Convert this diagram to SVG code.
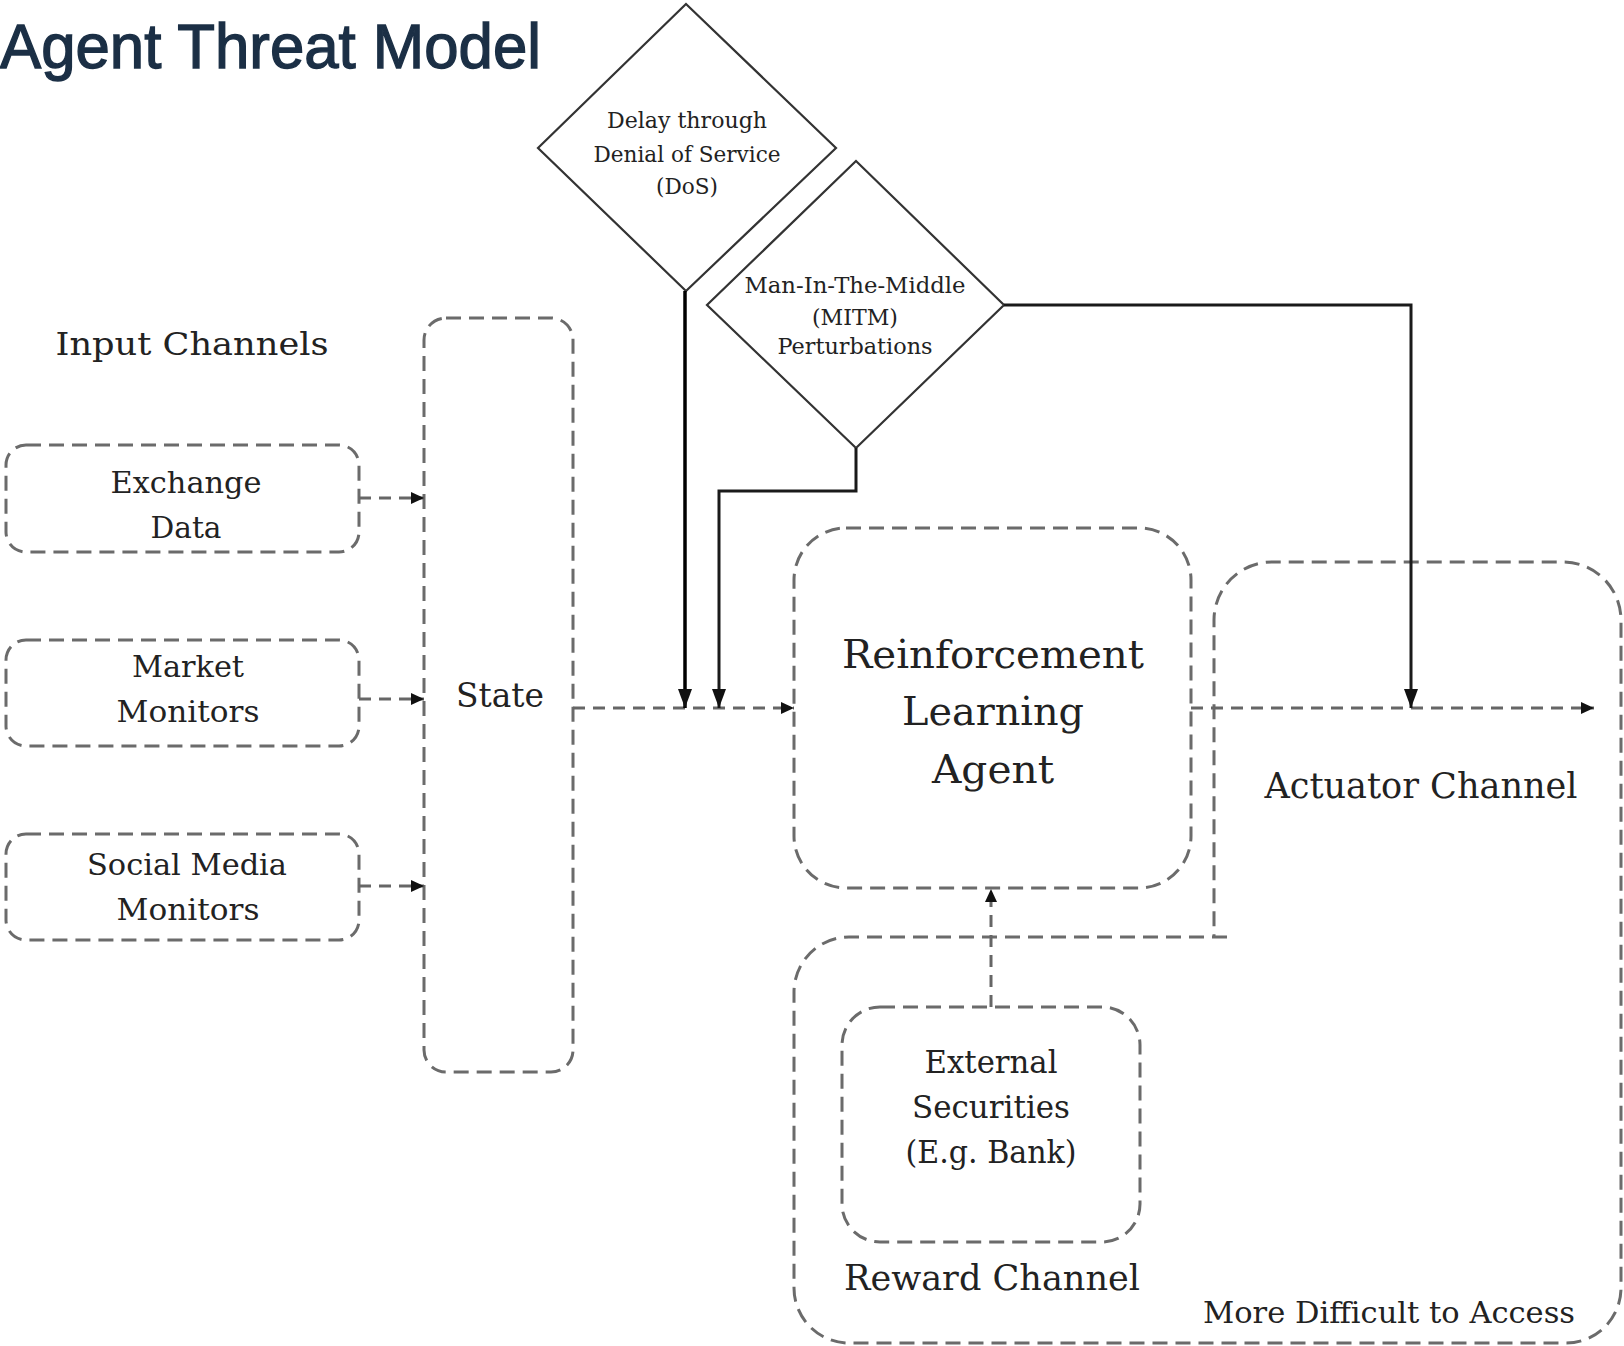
<svg xmlns="http://www.w3.org/2000/svg" width="1624" height="1346" viewBox="0 0 1624 1346">
<style>
.box{fill:none;stroke:#6b6b6b;stroke-width:3;stroke-dasharray:15 8;}
.dash{fill:none;stroke:#666;stroke-width:3;stroke-dasharray:12 8;}
.solid{fill:none;stroke:#1a1a1a;stroke-width:3;}
.dia{fill:#fff;stroke:#333;stroke-width:2.2;}
.t{font-family:"DejaVu Serif","Liberation Serif",serif;fill:#222;text-anchor:middle;}
.title{font-family:"Liberation Sans Narrow","Liberation Sans",sans-serif;fill:#1b2f45;stroke:#1b2f45;stroke-width:1.4;}
</style>
<defs>
<marker id="ah" markerUnits="userSpaceOnUse" markerWidth="14" markerHeight="12" refX="13" refY="6" orient="auto"><path d="M0,0 L13,6 L0,12 z" fill="#111"/></marker>
<marker id="ahb" markerUnits="userSpaceOnUse" markerWidth="20" markerHeight="14" refX="19" refY="7" orient="auto"><path d="M0,0 L19,7 L0,14 z" fill="#111"/></marker>
</defs>
<rect width="1624" height="1346" fill="#fff"/>
<text class="title" x="0" y="68" font-size="63" textLength="541" lengthAdjust="spacingAndGlyphs">Agent Threat Model</text>

<g id="input-channels-label"><text class="t" x="192" y="355" font-size="32" textLength="273" lengthAdjust="spacingAndGlyphs">Input Channels</text></g>

<g id="exchange-data">
<rect class="box" x="6" y="445" width="353" height="107" rx="20"/>
<text class="t" x="186" y="493" font-size="30" textLength="151" lengthAdjust="spacingAndGlyphs">Exchange</text>
<text class="t" x="186" y="538" font-size="30" textLength="71" lengthAdjust="spacingAndGlyphs">Data</text>
</g>
<g id="market-monitors">
<rect class="box" x="6" y="640" width="353" height="106" rx="20"/>
<text class="t" x="188" y="677" font-size="30" textLength="112" lengthAdjust="spacingAndGlyphs">Market</text>
<text class="t" x="188" y="722" font-size="30" textLength="143" lengthAdjust="spacingAndGlyphs">Monitors</text>
</g>
<g id="social-media-monitors">
<rect class="box" x="6" y="834" width="353" height="106" rx="20"/>
<text class="t" x="187" y="875" font-size="30" textLength="200" lengthAdjust="spacingAndGlyphs">Social Media</text>
<text class="t" x="188" y="920" font-size="30" textLength="143" lengthAdjust="spacingAndGlyphs">Monitors</text>
</g>
<g id="state">
<rect class="box" x="424" y="318" width="149" height="754" rx="22"/>
<text class="t" x="500" y="707" font-size="33" textLength="88" lengthAdjust="spacingAndGlyphs">State</text>
</g>

<g id="dos">
<polygon class="dia" points="686,4 836,148 686,291 538,148"/>
<text class="t" x="687" y="128" font-size="23" textLength="160" lengthAdjust="spacingAndGlyphs">Delay through</text>
<text class="t" x="687" y="162" font-size="23" textLength="187" lengthAdjust="spacingAndGlyphs">Denial of Service</text>
<text class="t" x="687" y="194" font-size="23" textLength="62" lengthAdjust="spacingAndGlyphs">(DoS)</text>
</g>
<g id="mitm">
<polygon class="dia" points="856,161 1004,305 856,448 707,305"/>
<text class="t" x="855" y="293" font-size="22" textLength="221" lengthAdjust="spacingAndGlyphs">Man-In-The-Middle</text>
<text class="t" x="855" y="325" font-size="22" textLength="86" lengthAdjust="spacingAndGlyphs">(MITM)</text>
<text class="t" x="855" y="354" font-size="22" textLength="155" lengthAdjust="spacingAndGlyphs">Perturbations</text>
</g>

<g id="rl-agent">
<rect class="box" x="794" y="528" width="397" height="360" rx="52"/>
<text class="t" x="993" y="668" font-size="39" textLength="302" lengthAdjust="spacingAndGlyphs">Reinforcement</text>
<text class="t" x="993" y="725" font-size="39" textLength="182" lengthAdjust="spacingAndGlyphs">Learning</text>
<text class="t" x="993" y="783" font-size="39" textLength="122" lengthAdjust="spacingAndGlyphs">Agent</text>
</g>

<g id="access-region">
<path class="box" d="M1227 937 H849 A55 55 0 0 0 794 992 V1288 A55 55 0 0 0 849 1343 H1566 A55 55 0 0 0 1621 1288 V620 A58 58 0 0 0 1563 562 H1272 A58 58 0 0 0 1214 620 V937"/>
<text class="t" x="1421" y="798" font-size="35" textLength="313" lengthAdjust="spacingAndGlyphs">Actuator Channel</text>
<text class="t" x="992" y="1290" font-size="36" textLength="296" lengthAdjust="spacingAndGlyphs">Reward Channel</text>
<text class="t" x="1389" y="1323" font-size="30" textLength="372" lengthAdjust="spacingAndGlyphs">More Difficult to Access</text>
</g>

<g id="external-securities">
<rect class="box" x="842" y="1007" width="298" height="235" rx="38"/>
<text class="t" x="991" y="1073" font-size="32" textLength="133" lengthAdjust="spacingAndGlyphs">External</text>
<text class="t" x="991" y="1118" font-size="32" textLength="158" lengthAdjust="spacingAndGlyphs">Securities</text>
<text class="t" x="991" y="1163" font-size="32" textLength="171" lengthAdjust="spacingAndGlyphs">(E.g. Bank)</text>
</g>

<g id="connectors">
<path class="dash" d="M359 498 H424" marker-end="url(#ah)"/>
<path class="dash" d="M359 699 H424" marker-end="url(#ah)"/>
<path class="dash" d="M359 886 H424" marker-end="url(#ah)"/>
<path class="dash" d="M573 708 H794" marker-end="url(#ah)"/>
<path class="dash" d="M1191 708 H1594" marker-end="url(#ah)"/>
<path class="dash" d="M991 1007 V889" marker-end="url(#ah)"/>
<path class="solid" style="stroke-width:3.5;stroke:#000" d="M685 291 V708" marker-end="url(#ahb)"/>
<path class="solid" d="M856 448 V491 H719 V708" marker-end="url(#ahb)"/>
<path class="solid" d="M1004 305 H1411 V708" marker-end="url(#ahb)"/>
</g>
</svg>
